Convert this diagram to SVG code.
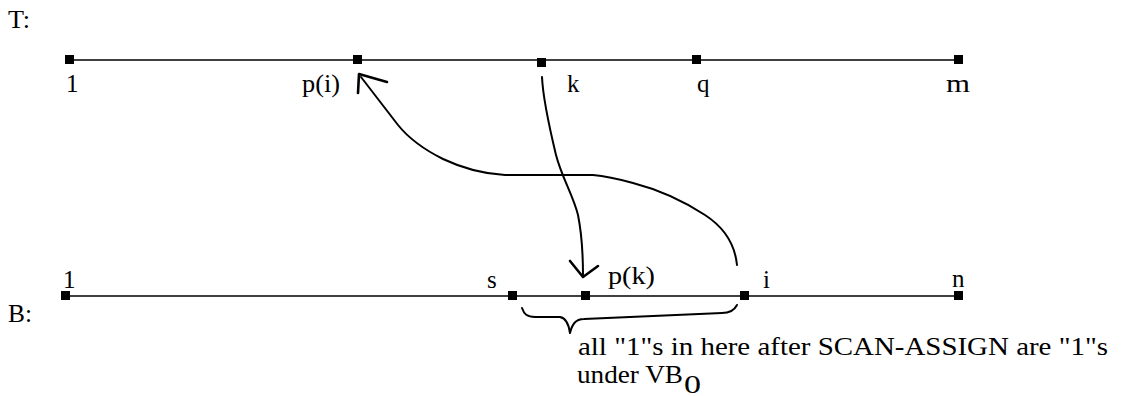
<svg xmlns="http://www.w3.org/2000/svg" width="1122" height="396" viewBox="0 0 1122 396">
<style>
text{font-family:"Liberation Serif","Times New Roman",serif;font-size:25px;fill:#000}
.ax{stroke:#000;stroke-width:1.6;fill:none}
.pt{fill:#000}
.cv{stroke:#000;stroke-width:2;fill:none;stroke-linecap:round;stroke-linejoin:round}
.ah{stroke:#000;stroke-width:2.6;fill:none;stroke-linecap:round;stroke-linejoin:round}
</style>
<rect width="1122" height="396" fill="#fff"/>
<g id="T-line">
<text x="8" y="28" textLength="22" lengthAdjust="spacingAndGlyphs">T:</text>
<line class="ax" x1="68" y1="60" x2="958" y2="60"/>
</g>
<g id="T-1"><rect class="pt" x="65" y="55" width="9" height="9"/><text x="66" y="92">1</text></g>
<g id="T-pi"><rect class="pt" x="353" y="55" width="9" height="9"/><text x="302" y="92" textLength="38" lengthAdjust="spacingAndGlyphs">p(i)</text></g>
<g id="T-k"><rect class="pt" x="537" y="58" width="9" height="9"/><text x="567" y="92">k</text></g>
<g id="T-q"><rect class="pt" x="692" y="55" width="9" height="9"/><text x="697" y="92">q</text></g>
<g id="T-m"><rect class="pt" x="954" y="55" width="9" height="9"/><text x="946" y="92" textLength="24" lengthAdjust="spacingAndGlyphs">m</text></g>
<g id="B-line">
<text x="8" y="322" textLength="24" lengthAdjust="spacingAndGlyphs">B:</text>
<line class="ax" x1="65" y1="296" x2="958" y2="296"/>
</g>
<g id="B-1"><rect class="pt" x="61" y="291" width="9" height="9"/><text x="63" y="288">1</text></g>
<g id="B-s"><rect class="pt" x="508" y="291" width="9" height="9"/><text x="487" y="288">s</text></g>
<g id="B-pk"><rect class="pt" x="581" y="291" width="9" height="9"/><text x="608" y="284" textLength="47" lengthAdjust="spacingAndGlyphs">p(k)</text></g>
<g id="B-i"><rect class="pt" x="740" y="291" width="9" height="9"/><text x="763" y="288">i</text></g>
<g id="B-n"><rect class="pt" x="954" y="291" width="9" height="9"/><text x="952" y="287">n</text></g>
<g id="connectors">
<path class="cv" d="M542,77 C543,100 550,130 556,155 C562,178 573,195 578,215 C583,240 583,260 583,276"/>
<path class="ah" d="M570,261 L583,277 L598,266"/>
<path class="cv" d="M737,265 C735,245 725,228 705,215 C685,202 660,190 633,183 C615,178 605,176 593,175 L505,175 C485,174 462,168 443,159 C425,150 410,140 398,125 L361,77"/>
<path class="ah" d="M358,93 L359,74 L387,82"/>
</g>
<g id="brace">
<path class="cv" d="M522,308 C524,314 527,317 535,317 L560,317 C566,318 569,326 570,333 C572,325 575,319 584,319 L722,313 C731,313 735,309 737,305"/>
<text x="578" y="355" textLength="530" lengthAdjust="spacingAndGlyphs">all "1"s in here after SCAN-ASSIGN are "1"s</text>
<text x="577" y="383" textLength="106" lengthAdjust="spacingAndGlyphs">under VB</text>
<text x="684" y="393" textLength="17" lengthAdjust="spacingAndGlyphs">0</text>
</g>
</svg>
